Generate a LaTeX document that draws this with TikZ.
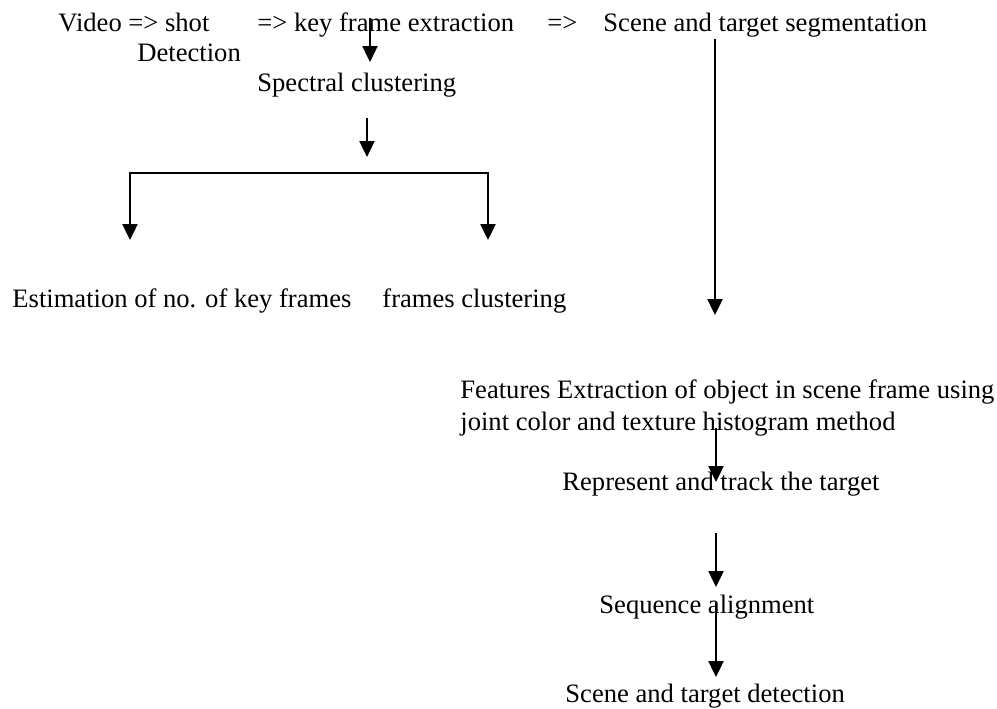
\documentclass[tikz,border=0pt]{standalone}
\usepackage{fontspec}
\setmainfont{Liberation Serif}
\usetikzlibrary{arrows.meta}

\begin{document}
\begin{tikzpicture}[x=0.5pt,y=-0.5pt,>={Triangle[length=8pt,width=7.5pt]},
    txt/.style={inner sep=0pt,anchor=base west,font=\fontsize{13.3}{16}\selectfont},
    link/.style={->,line width=1.2pt}]

    \useasboundingbox (0,0) rectangle (997,708);

    \node[txt] (Vid) at (58,31) {Video => shot};
    \node[txt] (Det) at (137,61) {Detection};
    \node[txt] (Key) at (257,31) {=> key frame extraction};
    \node[txt] (Imp) at (547,31) {=>};
    \node[txt] (Seg) at (603,31) {Scene and target segmentation};
    \node[txt] (Spec) at (257,91) {Spectral clustering};
    \node[txt] (Est) at (12,307) {Estimation of no. of key frames};
    \node[txt] (Clu) at (382,307) {frames clustering};
    \node[txt] (Feat) at (460,398) {Features Extraction of object in scene frame using};
    \node[txt] (Feat2) at (460,430) {joint color and texture histogram method};
    \node[txt] (Rep) at (562,490) {Represent and track the target};
    \node[txt] (Seq) at (599,613) {Sequence alignment};
    \node[txt] (Det2) at (565,702) {Scene and target detection};

    \coordinate (K1) at (370,18);
    \coordinate (K2) at (370,62);
    \coordinate (S1) at (367,118);
    \coordinate (S2) at (367,157);
    \coordinate (B1) at (130,240);
    \coordinate (B2) at (130,173);
    \coordinate (B3) at (488,173);
    \coordinate (B4) at (488,240);
    \coordinate (G1) at (715,39);
    \coordinate (G2) at (715,315);
    \coordinate (F1) at (716,428);
    \coordinate (F2) at (716,482);
    \coordinate (R1) at (716,533);
    \coordinate (R2) at (716,587);
    \coordinate (Q1) at (716,603);
    \coordinate (Q2) at (716,677);

    \draw[link] (K1) -- (K2);
    \draw[link] (S1) -- (S2);
    \draw[link,<->] (B1) -- (B2) -- (B3) -- (B4);
    \draw[link] (G1) -- (G2);
    \draw[link] (F1) -- (F2);
    \draw[link] (R1) -- (R2);
    \draw[link] (Q1) -- (Q2);

\end{tikzpicture}
\end{document}
